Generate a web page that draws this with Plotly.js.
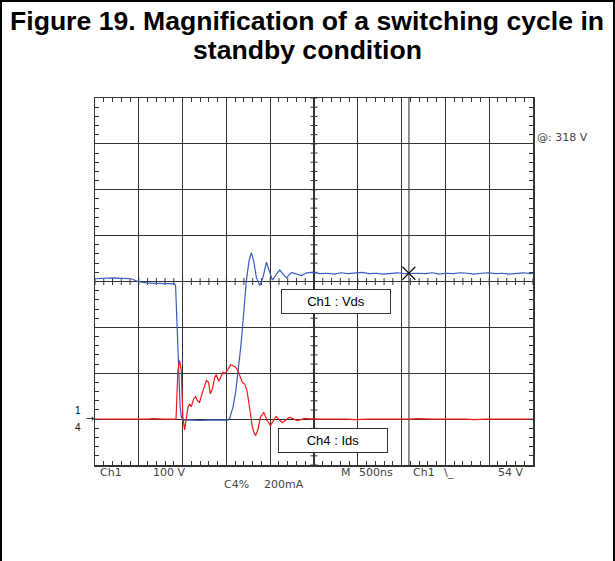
<!DOCTYPE html>
<html><head><meta charset="utf-8">
<script src="https://cdn.plot.ly/plotly-3.0.1.min.js"></script>
<style>
html,body{margin:0;padding:0;background:#fff;}
#chart{position:absolute;left:0;top:0;width:615px;height:561px;}
#frame{position:absolute;left:0;top:0;width:611px;height:559px;border-left:2px solid #000;border-right:2px solid #000;border-top:2px solid #000;pointer-events:none;}
</style></head><body>
<div id="chart"></div><div id="frame"></div>
<script>
// ---- Data (time in ns, Vds in V, Ids in mA) ----
const tVds = [0,100,200,300,414,489,585,700,800,909,
  920,937,954,971,985,1006,1100,1200,1300,1400,
  1518,1537,1575,1606,1632,1651,1671,1701,1728,1758,
  1785,1811,1842,1880,1918,1957,1986,2025,2071,2109,
  2147,2185,2243,2300,2357,2414,2490,2566,
  2650,2730,2810,2890,2970,3050,3130,3210,3290,3370,
  3450,3530,3610,3690,3770,3850,3930,4010,4090,4170,
  4250,4330,4410,4490,4570,4650,4730,4810,4890,4970,5000];
const vds = [306,307,308,307,306,300,297,296,296,295,
  290,200,100,30,5,-2,-2,-3,-2,-2,
  -2,2,26,60,98,135,171,244,302,345,
  363,345,309,291,309,342,323,303,316,325,
  316,308,320,316,313,319,320,317,
  318,316,319,317,318,320,317,318,316,318,
  319,317,318,318,317,319,316,318,317,319,
  318,316,318,319,317,318,316,318,319,317,318];

const tIds = [0,60,120,180,240,300,360,420,480,540,600,660,720,780,840,900,
  925,946,966,985,1003,1023,1042,1061,1080,1099,
  1126,1149,1168,1194,1221,1251,1271,1297,1317,1340,
  1366,1385,1412,1434,1461,1491,1518,1549,1575,1606,
  1632,1660,1682,1709,1735,1758,1777,1797,1815,1834,
  1861,1888,1926,1964,2003,2066,2140,2220,2310,2394,
  2480,2560,2640,2720,2800,2880,2960,3040,3120,3200,3280,3360,3440,3520,3600,3680,
  3760,3840,3920,4000,4080,4160,4240,4320,4400,4480,4560,4640,4720,4800,4880,4960,5000];
const ids = [0,0,-2,0,0,0,0,0,-2,0,0,2,0,0,0,0,
  0,211,255,211,8,-47,8,51,66,54,
  88,98,81,73,110,146,168,160,110,132,
  182,194,165,182,204,200,219,237,233,226,
  211,182,160,153,124,66,8,-36,-58,-72,
  -43,8,30,-5,-28,12,-16,8,-6,3,
  0,0,0,2,0,0,-2,0,0,0,0,0,-2,0,0,2,
  0,0,0,0,2,0,0,-2,0,0,0,0,0,-2,0,0,0];

const trigT = [3583];
const trigV = [318];
const cursorT = 3583;

const titleLines = ['Figure 19. Magnification of a switching cycle in', 'standby condition'];
const channelLabels = ['Ch1 : Vds', 'Ch4 : Ids'];
const readoutRow1 = ['Ch1', '100 V', 'M', '500ns', 'Ch1', '\\_', '54 V'];
const readoutRow2 = ['C4%', '200mA'];
const cursorReadout = '@: 318 V';
const groundMarks = ['1', '4', '\u2192'];

// ---- Layout helpers ----
const L = 95, R = 82, T = 98, B = 96, W = 615, H = 561;
const pw = W - L - R, ph = H - T - B;
const px = x => (x - L) / pw;
const py = y => (H - B - y) / ph;

const scopeFont = {family: 'DejaVu Sans, sans-serif', size: 11, color: '#444'};
const annotations = [];
function addText(text, x, y, font, xanchor) {
  annotations.push({text, xref: 'paper', yref: 'paper', x: px(x), y: py(y),
    xanchor: xanchor || 'left', yanchor: 'middle', showarrow: false, font});
}
// title lines
const titleFont = {family: 'Liberation Sans, Arial, sans-serif', size: 26.6, color: '#000', weight: 'bold'};
addText('<b>' + titleLines[0] + '</b>', 307, 21, titleFont, 'center');
addText('<b>' + titleLines[1] + '</b>', 307, 50, titleFont, 'center');

const row1X = [98, 151, 339, 357, 411, 442, 496];
readoutRow1.forEach((s, i) => addText(s, row1X[i], 472.5, scopeFont));
const row2X = [222, 262];
readoutRow2.forEach((s, i) => addText(s, row2X[i], 485, scopeFont));
addText(cursorReadout, 535, 137, scopeFont);
const gFont = {family: 'Liberation Sans, Arial, sans-serif', size: 10, color: '#000'};
addText(groundMarks[0], 78, 410, gFont, 'center');
addText(groundMarks[1], 78, 427, gFont, 'center');
addText(groundMarks[2], 90, 418, {family: 'DejaVu Sans, sans-serif', size: 10, color: '#000'}, 'center');

const boxFont = {family: 'Liberation Sans, Arial, sans-serif', size: 13, color: '#000'};
[[channelLabels[0], 336, 301.5], [channelLabels[1], 333, 440.5]].forEach(([s, x, y]) => {
  annotations.push({text: s, xref: 'paper', yref: 'paper', x: px(x), y: py(y),
    xanchor: 'center', yanchor: 'middle', showarrow: false, font: boxFont,
    bgcolor: '#fff', bordercolor: '#333', borderwidth: 1, width: 106, height: 21});
});

const gridC = '#333';
// centre-cross minor ticks (every 1/5 division) as shapes
const shapes = [{type: 'line', xref: 'x', yref: 'paper', x0: cursorT, x1: cursorT, y0: 0, y1: 1,
  line: {color: '#7a7a7a', width: 1.6}, layer: 'between'}];
const tk = 3.5;
for (let t = 0; t <= 5000; t += 100) {
  shapes.push({type: 'line', xref: 'x', yref: 'paper', x0: t, x1: t,
    y0: 0.5 - tk / ph, y1: 0.5 + tk / ph, line: {color: gridC, width: 1}, layer: 'between'});
}
for (let v = -100; v <= 700; v += 20) {
  shapes.push({type: 'line', xref: 'paper', yref: 'y', y0: v, y1: v,
    x0: 0.5 - tk / pw, x1: 0.5 + tk / pw, line: {color: gridC, width: 1}, layer: 'between'});
}

const baseAx = {showticklabels: false, zeroline: false, fixedrange: true};
const layout = {
  width: W, height: H,
  margin: {l: L, r: R, t: T, b: B, pad: 0},
  paper_bgcolor: '#fff', plot_bgcolor: '#fff',
  showlegend: false,
  xaxis: Object.assign({}, baseAx, {range: [0, 5000], dtick: 500, tick0: 0,
    showgrid: true, gridcolor: gridC, gridwidth: 1.2,
    showline: true, linecolor: gridC, linewidth: 1.5, mirror: 'allticks',
    ticks: 'inside', ticklen: 4, tickcolor: gridC, tickwidth: 1,
    minor: {dtick: 100, tick0: 0, ticks: 'inside', ticklen: 4, tickcolor: gridC, tickwidth: 1, showgrid: false}}),
  yaxis: Object.assign({}, baseAx, {range: [-100, 700], dtick: 100, tick0: 0,
    showgrid: true, gridcolor: gridC, gridwidth: 1.2,
    showline: true, linecolor: gridC, linewidth: 1.5, mirror: 'allticks',
    ticks: 'inside', ticklen: 4, tickcolor: gridC, tickwidth: 1,
    minor: {dtick: 20, tick0: 0, ticks: 'inside', ticklen: 4, tickcolor: gridC, tickwidth: 1, showgrid: false}}),
  yaxis2: Object.assign({}, baseAx, {range: [-200, 1400], overlaying: 'y', visible: false}),
  shapes,
  annotations
};

const traces = [
  {x: tVds, y: vds, type: 'scatter', mode: 'lines', name: 'Ch1 : Vds', xaxis: 'x', yaxis: 'y',
    line: {color: '#3a5bc0', width: 1.2}},
  {x: tIds, y: ids, type: 'scatter', mode: 'lines', name: 'Ch4 : Ids', xaxis: 'x', yaxis: 'y2',
    line: {color: '#f01818', width: 1.2}},
  {x: trigT, y: trigV, type: 'scatter', mode: 'markers', name: 'trigger', xaxis: 'x', yaxis: 'y',
    marker: {symbol: 'x-thin', size: 13, color: '#111', line: {color: '#111', width: 1.2}}}
];

Plotly.newPlot('chart', traces, layout, {staticPlot: true, displayModeBar: false});
</script></body></html>
